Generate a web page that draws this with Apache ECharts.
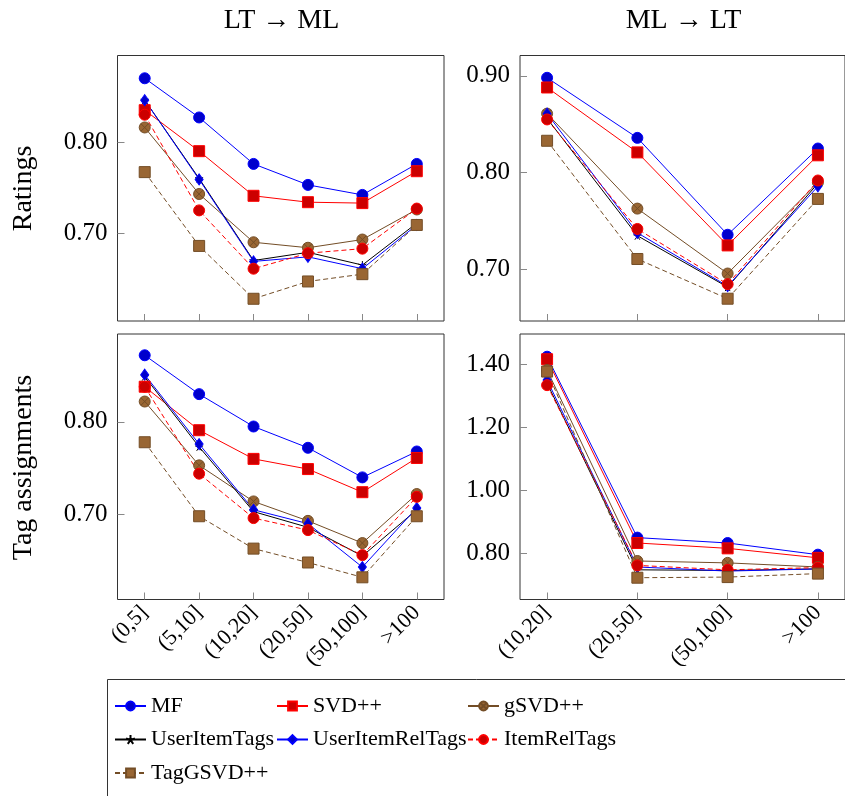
<!DOCTYPE html>
<html>
<head>
<meta charset="utf-8">
<script src="https://cdn.jsdelivr.net/npm/echarts@6/dist/echarts.min.js"></script>
<style>
html,body{margin:0;padding:0;background:#fff;}
#chart{width:845px;height:796px;}
</style>
</head>
<body>
<div id="chart"></div>
<script>
// ---- categories / labels ----
const catsLT = ['(0,5]', '(5,10]', '(10,20]', '(20,50]', '(50,100]', '>100'];
const catsML = ['(10,20]', '(20,50]', '(50,100]', '>100'];
const methods = ['MF', 'SVD++', 'gSVD++', 'UserItemTags', 'UserItemRelTags', 'ItemRelTags', 'TagGSVD++'];
const colTitles = ['LT \u2192 ML', 'ML \u2192 LT'];
const rowTitles = ['Ratings', 'Tag assignments'];

// ---- tick values ----
const ticksRatingsLT = [0.70, 0.80];
const ticksRatingsML = [0.70, 0.80, 0.90];
const ticksTagsLT = [0.70, 0.80];
const ticksTagsML = [0.80, 1.00, 1.20, 1.40];

// ---- Ratings, LT -> ML ----
const ratingsLT_MF = [0.870, 0.827, 0.776, 0.753, 0.742, 0.776];
const ratingsLT_SVDpp = [0.835, 0.790, 0.741, 0.734, 0.733, 0.768];
const ratingsLT_gSVDpp = [0.816, 0.743, 0.690, 0.684, 0.693, 0.726];
const ratingsLT_UserItemTags = [0.846, 0.760, 0.670, 0.679, 0.665, 0.711];
const ratingsLT_UserItemRelTags = [0.846, 0.759, 0.669, 0.674, 0.661, 0.709];
const ratingsLT_ItemRelTags = [0.830, 0.725, 0.661, 0.678, 0.683, 0.727];
const ratingsLT_TagGSVDpp = [0.767, 0.686, 0.628, 0.647, 0.655, 0.709];

// ---- Ratings, ML -> LT ----
const ratingsML_MF = [0.898, 0.836, 0.736, 0.825];
const ratingsML_SVDpp = [0.888, 0.821, 0.725, 0.818];
const ratingsML_gSVDpp = [0.861, 0.763, 0.696, 0.790];
const ratingsML_UserItemTags = [0.856, 0.735, 0.682, 0.789];
const ratingsML_UserItemRelTags = [0.861, 0.738, 0.683, 0.786];
const ratingsML_ItemRelTags = [0.855, 0.742, 0.685, 0.792];
const ratingsML_TagGSVDpp = [0.833, 0.711, 0.670, 0.773];

// ---- Tag assignments, LT -> ML ----
const tagsLT_MF = [0.872, 0.830, 0.795, 0.772, 0.740, 0.768];
const tagsLT_SVDpp = [0.838, 0.791, 0.760, 0.749, 0.724, 0.761];
const tagsLT_gSVDpp = [0.822, 0.753, 0.714, 0.693, 0.669, 0.722];
const tagsLT_UserItemTags = [0.849, 0.773, 0.703, 0.686, 0.655, 0.705];
const tagsLT_UserItemRelTags = [0.851, 0.776, 0.705, 0.690, 0.643, 0.707];
const tagsLT_ItemRelTags = [0.838, 0.744, 0.696, 0.683, 0.656, 0.719];
const tagsLT_TagGSVDpp = [0.778, 0.698, 0.663, 0.648, 0.632, 0.698];

// ---- Tag assignments, ML -> LT ----
const tagsML_MF = [1.424, 0.851, 0.834, 0.797];
const tagsML_SVDpp = [1.416, 0.834, 0.817, 0.787];
const tagsML_gSVDpp = [1.382, 0.777, 0.771, 0.758];
const tagsML_UserItemTags = [1.340, 0.749, 0.747, 0.752];
const tagsML_UserItemRelTags = [1.350, 0.758, 0.745, 0.752];
const tagsML_ItemRelTags = [1.334, 0.763, 0.749, 0.756];
const tagsML_TagGSVDpp = [1.377, 0.724, 0.726, 0.737];

const panels = [
  { cats: catsLT, ticks: ticksRatingsLT, min: 0.6036, max: 0.895, showX: false,
    data: [ratingsLT_MF, ratingsLT_SVDpp, ratingsLT_gSVDpp, ratingsLT_UserItemTags, ratingsLT_UserItemRelTags, ratingsLT_ItemRelTags, ratingsLT_TagGSVDpp] },
  { cats: catsML, ticks: ticksRatingsML, min: 0.647, max: 0.921, showX: false,
    data: [ratingsML_MF, ratingsML_SVDpp, ratingsML_gSVDpp, ratingsML_UserItemTags, ratingsML_UserItemRelTags, ratingsML_ItemRelTags, ratingsML_TagGSVDpp] },
  { cats: catsLT, ticks: ticksTagsLT, min: 0.608, max: 0.895, showX: true,
    data: [tagsLT_MF, tagsLT_SVDpp, tagsLT_gSVDpp, tagsLT_UserItemTags, tagsLT_UserItemRelTags, tagsLT_ItemRelTags, tagsLT_TagGSVDpp] },
  { cats: catsML, ticks: ticksTagsML, min: 0.655, max: 1.496, showX: true,
    data: [tagsML_MF, tagsML_SVDpp, tagsML_gSVDpp, tagsML_UserItemTags, tagsML_UserItemRelTags, tagsML_ItemRelTags, tagsML_TagGSVDpp] }
];

const FONT = '"Liberation Serif", "DejaVu Serif", serif';
const BROWN_LINE = '#734d26', BROWN_FILL = '#996633';
const OTIMES = 'path://M0,-10 A10,10 0 1,1 0,10 A10,10 0 1,1 0,-10 Z M-7,-7 L7,7 M7,-7 L-7,7';
const STAR = 'path://M0,-10 L0,0 M9.5,-3.1 L0,0 M5.9,8.1 L0,0 M-5.9,8.1 L0,0 M-9.5,-3.1 L0,0';
const styles = [
  { line: '#0000ff', fill: '#0000cc', symbol: 'circle', size: 11, dash: 'solid' },
  { line: '#ff0000', fill: '#cc0000', symbol: 'rect', size: 11, dash: 'solid' },
  { line: BROWN_LINE, fill: BROWN_FILL, symbol: OTIMES, size: 11, dash: 'solid' },
  { line: '#000000', fill: '#000000', symbol: STAR, size: 8, dash: 'solid' },
  { line: '#0000ff', fill: '#0000cc', symbol: 'diamond', size: [8, 11], dash: 'solid' },
  { line: '#ff0000', fill: '#cc0000', symbol: 'circle', size: 11, dash: [5, 3] },
  { line: BROWN_LINE, fill: BROWN_FILL, symbol: 'rect', size: 11, dash: [5, 3] }
];

const grids = [
  { left: 117.5, top: 55.5, width: 326.5, height: 265.5 },
  { left: 520, top: 55.5, width: 327.6, height: 265.5 },
  { left: 117.5, top: 334, width: 326.5, height: 265.5 },
  { left: 520, top: 334, width: 327.6, height: 265.5 }
].map(g => Object.assign(g, { show: true, borderColor: '#333', borderWidth: 1, backgroundColor: 'transparent' }));

const xAxes = [], yAxes = [], series = [];
panels.forEach((p, gi) => {
  const n = p.cats.length;
  const pad = (n - 1) * 0.1;
  const idx = p.cats.map((c, i) => i);
  xAxes.push({
    type: 'value', gridIndex: gi, min: -pad, max: n - 1 + pad, position: 'bottom',
    axisLine: { show: false, onZero: false }, splitLine: { show: false },
    axisTick: { show: true, inside: true, length: 7, customValues: idx, lineStyle: { color: '#888', width: 1 } },
    axisLabel: { show: p.showX, customValues: idx, rotate: 45, margin: 10,
      formatter: v => p.cats[Math.round(v)], fontFamily: FONT, fontSize: 22, color: '#000' }
  });
  yAxes.push({
    type: 'value', gridIndex: gi, min: p.min, max: p.max, position: 'left',
    axisLine: { show: false, onZero: false }, splitLine: { show: false },
    axisTick: { show: true, inside: true, length: 7, customValues: p.ticks, lineStyle: { color: '#888', width: 1 } },
    axisLabel: { show: true, customValues: p.ticks, margin: 10,
      formatter: v => Number(v).toFixed(2), fontFamily: FONT, fontSize: 25, color: '#000' }
  });
  p.data.forEach((vals, si) => {
    const s = styles[si];
    series.push({
      type: 'line', name: methods[si], xAxisIndex: gi, yAxisIndex: gi,
      data: vals.map((v, i) => [i, v]),
      symbol: s.symbol, symbolSize: s.size, showSymbol: true,
      lineStyle: { color: s.line, width: 1, type: s.dash },
      itemStyle: { color: s.fill, borderColor: s.line, borderWidth: 1 },
      emphasis: { disabled: true }, silent: true
    });
  });
});

const legendBase = {
  orient: 'vertical', top: 694, padding: 0, itemWidth: 31, itemHeight: 11, itemGap: 9.5,
  textStyle: { fontFamily: FONT, fontSize: 22, color: '#000', lineHeight: 24 },
  selectedMode: false
};
const legends = [
  Object.assign({}, legendBase, { left: 114, data: [methods[0], methods[3], methods[6]] }),
  Object.assign({}, legendBase, { left: 276, data: [methods[1], methods[4]] }),
  Object.assign({}, legendBase, { left: 467, data: [methods[2], methods[5]] })
];

const graphics = [
  { type: 'rect', shape: { x: 107.5, y: 679.5, width: 760, height: 200 }, style: { fill: 'none', stroke: '#333', lineWidth: 1 }, silent: true },
  { type: 'text', x: 281.5, y: 21, style: { text: colTitles[0], font: '28px ' + FONT, fill: '#000', textAlign: 'center', textVerticalAlign: 'middle' } },
  { type: 'text', x: 683.5, y: 21, style: { text: colTitles[1], font: '28px ' + FONT, fill: '#000', textAlign: 'center', textVerticalAlign: 'middle' } },
  { type: 'text', x: 24, y: 188.5, rotation: Math.PI / 2, style: { text: rowTitles[0], font: '28px ' + FONT, fill: '#000', textAlign: 'center', textVerticalAlign: 'middle' } },
  { type: 'text', x: 24, y: 467.5, rotation: Math.PI / 2, style: { text: rowTitles[1], font: '28px ' + FONT, fill: '#000', textAlign: 'center', textVerticalAlign: 'middle' } }
];

const chart = echarts.init(document.getElementById('chart'), null, { renderer: 'canvas' });
chart.setOption({
  animation: false,
  backgroundColor: '#fff',
  grid: grids,
  xAxis: xAxes,
  yAxis: yAxes,
  legend: legends,
  graphic: graphics,
  series: series
});
</script>
</body>
</html>
